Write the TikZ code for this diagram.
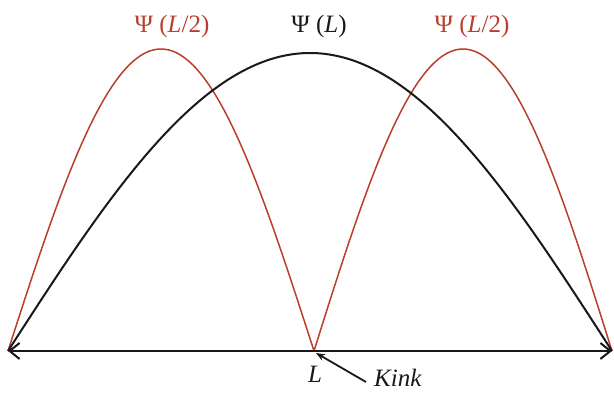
\documentclass[tikz,border=0pt]{standalone}
\usepackage{fontspec}
\setmainfont{Liberation Serif}
\usetikzlibrary{arrows.meta}
\definecolor{wavered}{RGB}{185,62,44}
\definecolor{wavedark}{RGB}{25,25,25}
\tikzset{
  redwave/.style={draw=wavered, line width=1.5pt},
  blackwave/.style={draw=wavedark, line width=2pt},
  axisline/.style={draw=wavedark, line width=2.2pt, {Straight Barb[length=10pt,width=16pt,line width=2pt]}-{Straight Barb[length=10pt,width=16pt,line width=2pt]}},
  redlab/.style={text=wavered, font=\fontsize{25}{28}\selectfont, anchor=base, inner sep=0pt},
  blacklab/.style={text=wavedark, font=\fontsize{25}{28}\selectfont, anchor=base, inner sep=0pt},
}
\begin{document}
\begin{tikzpicture}[x=1pt,y=1pt]
\useasboundingbox (0,0) rectangle (614,393);
\coordinate (A) at (8,42);
\coordinate (B) at (612,42);
\coordinate (M) at (316,40);
% waves
\draw[redwave] plot[domain=8:314,samples=120,smooth] (\x,{42+302*sin(0.588235*(\x-8))});
\draw[redwave] plot[domain=314:612,samples=120,smooth] (\x,{42+302*sin(0.604027*(\x-314))});
\draw[blackwave] plot[domain=8:612,samples=200,smooth] (\x,{42+298*sin(0.298013*(\x-8))});
% axis
\draw[axisline] (A) -- (B);
% labels
\node[redlab] (l1) at (172,360) {Ψ (\textit{L}/2)};
\node[blacklab] (l2) at (319,360) {Ψ (\textit{L})};
\node[redlab] (l3) at (472,360) {Ψ (\textit{L}/2)};
\node[blacklab] (lL) at (315,10) {\textit{L}};
\node[blacklab, anchor=base west] (kink) at (374,6) {\textit{Kink}};
\coordinate (ks) at (366,11);
\draw[draw=wavedark, line width=1.8pt, -{Stealth[length=9pt,width=7pt]}] (ks) -- (M);
\end{tikzpicture}
\end{document}
